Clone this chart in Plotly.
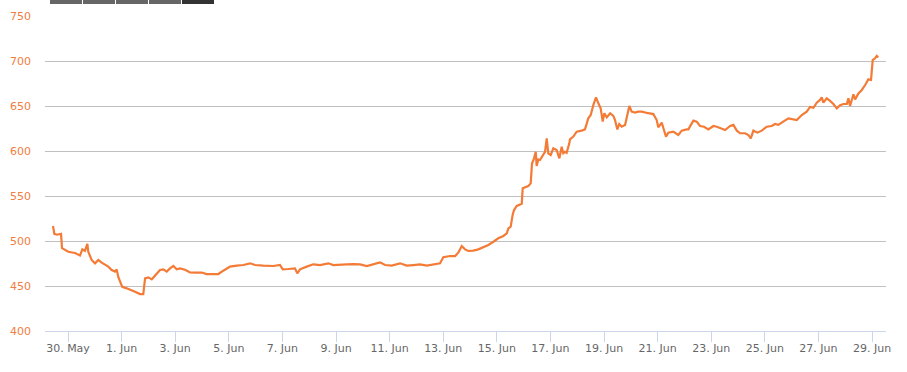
import plotly.graph_objects as go

# Observed series (time, price)
times = [
    "2016-05-29 10:35", "2016-05-29 11:45", "2016-05-29 14:10", "2016-05-29 17:45", "2016-05-29 18:40",
    "2016-05-29 21:20", "2016-05-30 00:15", "2016-05-30 06:15", "2016-05-30 10:45", "2016-05-30 12:50",
    "2016-05-30 15:10", "2016-05-30 17:20", "2016-05-30 18:10", "2016-05-30 21:10", "2016-05-31 00:10",
    "2016-05-31 03:10", "2016-05-31 06:10", "2016-05-31 12:05", "2016-05-31 15:05", "2016-05-31 18:05",
    "2016-05-31 19:35", "2016-05-31 21:00", "2016-05-31 22:35", "2016-06-01 00:35", "2016-06-01 04:35",
    "2016-06-01 07:30", "2016-06-01 12:00", "2016-06-01 16:30", "2016-06-01 19:25", "2016-06-01 21:00",
    "2016-06-01 23:55", "2016-06-02 03:00", "2016-06-02 05:55", "2016-06-02 10:25", "2016-06-02 13:20",
    "2016-06-02 16:25", "2016-06-02 19:20", "2016-06-02 22:20", "2016-06-03 01:20", "2016-06-03 04:20",
    "2016-06-03 08:50", "2016-06-03 13:15", "2016-06-03 17:45", "2016-06-03 23:45", "2016-06-04 04:10",
    "2016-06-04 10:05", "2016-06-04 14:35", "2016-06-04 19:05", "2016-06-05 01:05", "2016-06-05 07:05",
    "2016-06-05 13:00", "2016-06-05 19:00", "2016-06-05 23:30", "2016-06-06 06:55", "2016-06-06 15:50",
    "2016-06-06 21:50", "2016-06-07 00:15", "2016-06-07 05:15", "2016-06-07 11:15", "2016-06-07 13:20",
    "2016-06-07 15:45", "2016-06-07 21:45", "2016-06-08 03:40", "2016-06-08 09:40", "2016-06-08 17:05",
    "2016-06-08 21:35", "2016-06-09 03:35", "2016-06-09 09:35", "2016-06-09 15:30", "2016-06-09 21:30",
    "2016-06-10 03:30", "2016-06-10 09:25", "2016-06-10 15:25", "2016-06-10 19:55", "2016-06-11 01:55",
    "2016-06-11 09:20", "2016-06-11 15:20", "2016-06-11 21:15", "2016-06-12 03:15", "2016-06-12 09:15",
    "2016-06-12 15:10", "2016-06-12 21:10", "2016-06-13 00:05", "2016-06-13 06:05", "2016-06-13 10:35",
    "2016-06-13 13:30", "2016-06-13 16:35", "2016-06-13 19:30", "2016-06-13 22:30", "2016-06-14 02:55",
    "2016-06-14 07:25", "2016-06-14 11:55", "2016-06-14 16:25", "2016-06-14 20:55", "2016-06-15 01:20",
    "2016-06-15 05:50", "2016-06-15 08:55", "2016-06-15 10:20", "2016-06-15 12:25", "2016-06-15 14:10",
    "2016-06-15 15:25", "2016-06-15 17:50", "2016-06-15 20:50", "2016-06-15 22:20", "2016-06-15 23:10",
    "2016-06-16 01:15", "2016-06-16 04:10", "2016-06-16 06:20", "2016-06-16 07:30", "2016-06-16 09:20",
    "2016-06-16 10:50", "2016-06-16 11:40", "2016-06-16 13:10", "2016-06-16 14:40", "2016-06-16 16:10",
    "2016-06-16 19:10", "2016-06-16 20:40", "2016-06-16 22:05", "2016-06-17 00:15", "2016-06-17 02:35",
    "2016-06-17 05:35", "2016-06-17 08:00", "2016-06-17 10:05", "2016-06-17 11:30", "2016-06-17 13:00",
    "2016-06-17 14:30", "2016-06-17 16:55", "2016-06-17 17:30", "2016-06-17 20:30", "2016-06-17 23:30",
    "2016-06-18 04:00", "2016-06-18 06:55", "2016-06-18 09:55", "2016-06-18 12:05", "2016-06-18 14:25",
    "2016-06-18 16:50", "2016-06-18 18:55", "2016-06-18 21:00", "2016-06-18 22:50", "2016-06-19 00:15",
    "2016-06-19 02:25", "2016-06-19 05:25", "2016-06-19 08:20", "2016-06-19 09:50", "2016-06-19 11:55",
    "2016-06-19 13:40", "2016-06-19 15:50", "2016-06-19 18:50", "2016-06-19 22:40", "2016-06-20 00:45",
    "2016-06-20 03:45", "2016-06-20 06:40", "2016-06-20 09:45", "2016-06-20 12:40", "2016-06-20 15:40",
    "2016-06-20 20:10", "2016-06-20 23:10", "2016-06-21 00:35", "2016-06-21 03:40", "2016-06-21 05:40",
    "2016-06-21 07:30", "2016-06-21 09:35", "2016-06-21 14:00", "2016-06-21 18:30", "2016-06-21 21:35",
    "2016-06-22 02:00", "2016-06-22 03:30", "2016-06-22 08:00", "2016-06-22 11:00", "2016-06-22 14:00",
    "2016-06-22 17:35", "2016-06-22 21:25", "2016-06-23 01:55", "2016-06-23 05:00", "2016-06-23 09:25",
    "2016-06-23 12:25", "2016-06-23 16:55", "2016-06-23 19:50", "2016-06-23 22:55", "2016-06-24 01:50",
    "2016-06-24 06:20", "2016-06-24 09:15", "2016-06-24 11:25", "2016-06-24 13:45", "2016-06-24 17:20",
    "2016-06-24 21:15", "2016-06-25 01:40", "2016-06-25 06:10", "2016-06-25 09:05", "2016-06-25 12:05",
    "2016-06-25 15:05", "2016-06-25 18:05", "2016-06-25 21:05", "2016-06-26 04:35", "2016-06-26 09:05",
    "2016-06-26 13:30", "2016-06-26 16:30", "2016-06-26 19:30", "2016-06-26 22:30", "2016-06-27 01:25",
    "2016-06-27 03:00", "2016-06-27 04:25", "2016-06-27 07:25", "2016-06-27 10:25", "2016-06-27 13:25",
    "2016-06-27 16:25", "2016-06-27 19:25", "2016-06-27 22:20", "2016-06-28 01:25", "2016-06-28 02:50",
    "2016-06-28 04:20", "2016-06-28 07:20", "2016-06-28 08:50", "2016-06-28 11:50", "2016-06-28 14:50",
    "2016-06-28 17:50", "2016-06-28 20:40", "2016-06-28 23:05", "2016-06-29 00:35", "2016-06-29 02:40",
    "2016-06-29 04:10", "2016-06-29 05:35",
]
prices = [
    516.7, 508.0, 507.0, 508.0, 492.0,
    490.0, 488.0, 486.7, 484.0, 490.7,
    489.0, 496.7, 488.0, 479.0, 475.2,
    479.0, 476.0, 471.5, 467.8, 466.0,
    468.5, 460.0, 454.8, 449.0, 447.4,
    445.6, 443.7, 441.0, 441.0, 458.5,
    459.6, 457.4, 462.0, 467.8, 468.5,
    466.0, 469.6, 472.2, 468.5, 469.6,
    468.0, 465.0, 464.8, 465.0, 463.3,
    463.3, 463.3, 467.0, 471.5, 472.6,
    473.3, 475.2, 473.3, 472.6, 472.2,
    473.3, 468.5, 468.9, 469.6, 464.0,
    468.5, 471.5, 474.1, 473.3, 475.2,
    473.3, 473.3, 474.0, 474.4, 474.0,
    472.2, 474.0, 476.3, 473.3, 472.6,
    475.2, 472.6, 473.3, 474.0, 472.6,
    474.0, 475.2, 481.9, 483.3, 483.3,
    487.0, 494.4, 490.7, 488.9, 489.3,
    490.7, 493.0, 495.6, 499.2, 503.0,
    505.6, 508.5, 514.0, 516.0, 529.0,
    534.4, 539.0, 541.0, 541.5, 558.5,
    559.6, 561.0, 564.0, 586.0, 591.9,
    599.0, 583.3, 590.7, 590.0, 593.0,
    599.0, 614.0, 597.4, 595.6, 603.0,
    601.0, 591.9, 604.8, 597.4, 599.0,
    598.0, 608.5, 613.0, 616.0, 621.5,
    622.6, 624.0, 636.3, 640.0, 651.0,
    659.6, 653.0, 647.4, 632.6, 642.0,
    637.4, 642.0, 639.0, 634.4, 624.0,
    630.0, 627.0, 629.0, 650.0, 643.7,
    642.6, 643.7, 643.7, 642.6, 642.0,
    641.0, 634.4, 626.3, 631.5, 623.3,
    616.0, 620.4, 621.5, 617.8, 622.6,
    624.0, 624.0, 633.7, 632.6, 627.8,
    627.0, 624.0, 627.8, 627.0, 624.4,
    623.3, 627.8, 629.0, 622.6, 619.7,
    619.7, 617.8, 614.0, 622.6, 620.4,
    622.6, 627.0, 627.8, 630.0, 629.0,
    631.5, 633.7, 636.3, 634.4, 640.0,
    643.7, 649.0, 648.0, 653.7, 656.7,
    659.6, 653.7, 658.5, 655.6, 652.2,
    647.4, 651.0, 652.2, 652.2, 658.5,
    650.0, 663.0, 657.4, 664.0, 667.8,
    673.3, 679.6, 678.9, 701.0, 703.0,
    705.6, 704.0,
]

y_ticks = [400, 450, 500, 550, 600, 650, 700, 750]

LINE_COLOR = "#f47b36"

fig = go.Figure()
fig.add_trace(go.Scatter(
    x=times, y=prices, mode="lines",
    line=dict(color=LINE_COLOR, width=2.2),
    hoverinfo="x+y", showlegend=False,
))

# plot area pixels (for decorative top buttons)
L, R, T, B = 45, 886, 16, 331
def px_x(p):
    return (p - L) / (R - L)
def px_y(p):
    return (B - p) / (B - T)

buttons = [(50, 82, "#666666"), (83, 115, "#666666"), (116, 148, "#666666"),
           (149, 181, "#666666"), (182, 214, "#333333")]
shapes = []
for x0, x1, c in buttons:
    shapes.append(dict(type="rect", xref="paper", yref="paper",
                       x0=px_x(x0), x1=px_x(x1), y0=px_y(4), y1=px_y(-2),
                       fillcolor=c, line=dict(width=0), layer="above"))

fig.update_layout(
    width=907, height=372,
    margin=dict(l=L, r=907 - R, t=T, b=372 - B, autoexpand=False),
    paper_bgcolor="white", plot_bgcolor="white",
    shapes=shapes,
    font=dict(family="DejaVu Sans", size=11),
    xaxis=dict(
        type="date", automargin=False,
        range=["2016-05-29 03:24", "2016-06-29 12:30"],
        tick0="2016-05-30", dtick=2 * 86400000,
        tickformat="%-d. %b",
        ticks="outside", ticklen=10, tickcolor="#ccd6eb", tickwidth=1,
        showline=True, linecolor="#ccd6eb", linewidth=1,
        showgrid=False, zeroline=False,
        ticklabelstandoff=-3,
        tickfont=dict(color="#666666", size=11, family="DejaVu Sans"),
    ),
    yaxis=dict(
        automargin=False,
        range=[400, 750], tickvals=y_ticks,
        showgrid=True, gridcolor="#c0c0c0", gridwidth=1,
        zeroline=False, showline=False, ticks="",
        ticklabelstandoff=13,
        tickfont=dict(color="#f07d42", size=11, family="DejaVu Sans"),
    ),
)

fig.write_html("out.html")
